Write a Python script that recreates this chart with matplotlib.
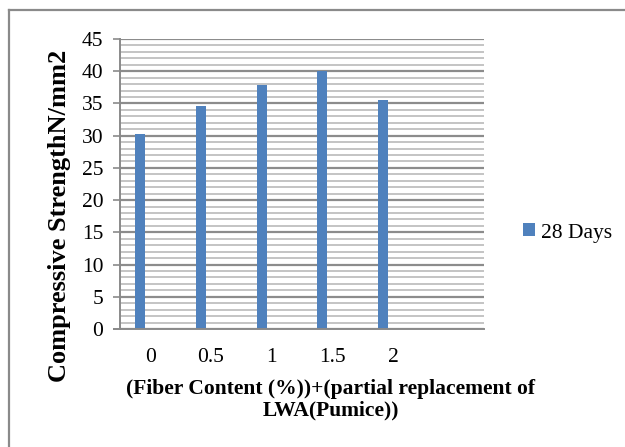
import matplotlib
matplotlib.use("Agg")
import matplotlib.pyplot as plt
from matplotlib.lines import Line2D
from matplotlib.ticker import MultipleLocator
import numpy as np

categories = ["0", "0.5", "1", "1.5", "2"]
days28 = [30.2, 34.6, 37.9, 40.0, 35.5]
series_name = "28 Days"
y_ticks = [0, 5, 10, 15, 20, 25, 30, 35, 40, 45]
xlabel = "(Fiber Content (%))+(partial replacement of\nLWA(Pumice))"
ylabel = "Compressive StrengthN/mm2"

W, H = 625, 447
fig = plt.figure(figsize=(W / 100, H / 100), dpi=100)
plt.rcParams['font.family'] = ['Liberation Serif', 'DejaVu Serif']

# outer chart frame (cropped)
fc = '#8a8a8a'
fig.add_artist(Line2D([8.5 / W, 8.5 / W], [1 - 9.5 / H, 0], transform=fig.transFigure, color=fc, lw=1.6))
fig.add_artist(Line2D([8.5 / W, 1], [1 - 9.5 / H, 1 - 9.5 / H], transform=fig.transFigure, color=fc, lw=1.6))

left, right, top, bottom = 120, 484, 39, 329
ax = fig.add_axes([left / W, 1 - bottom / H, (right - left) / W, (bottom - top) / H])

x = np.arange(len(categories))
bw = 0.165
ax.bar(x - bw, days28, width=bw, color='#4F81BD', zorder=3, label=series_name)

ax.set_xlim(-0.5, 5.5)
ax.set_ylim(0, 45)
ax.set_yticks(y_ticks)
ax.set_yticklabels([str(v) for v in y_ticks], fontsize=15.5)
ax.yaxis.set_minor_locator(MultipleLocator(1))
ax.set_xticks(x)
ax.set_xticklabels(categories, fontsize=15.5)
ax.tick_params(axis='x', length=0, pad=14)
ax.tick_params(axis='y', which='major', length=5, width=1.2, color='#8a8a8a', pad=7)
ax.tick_params(axis='y', which='minor', length=0)

ax.grid(axis='y', which='major', color='#8c8c8c', lw=1.6, zorder=1)
ax.grid(axis='y', which='minor', color='#c4c4c4', lw=1.4, zorder=1)

for s in ['top', 'right']:
    ax.spines[s].set_visible(False)
ax.spines['left'].set_color('#8a8a8a')
ax.spines['left'].set_linewidth(1.4)
ax.spines['bottom'].set_color('#8a8a8a')
ax.spines['bottom'].set_linewidth(1.4)
ax.spines['bottom'].set_bounds(-0.5 - 6 / 60.67, 5.5)
ax.spines['bottom'].set_zorder(4)

fig.text(331 / W, 1 - 400 / H, xlabel, ha='center', va='center', fontsize=15.5,
         fontweight='bold', linespacing=1.1)
fig.text(60 / W, 1 - 216 / H, ylabel, ha='center', va='center', rotation=90,
         fontsize=19, fontweight='bold')

leg = fig.legend(loc='center left', bbox_to_anchor=(523 / W, 1 - 233 / H), frameon=False,
                 fontsize=15.5, handlelength=0.55, handleheight=0.55, handletextpad=0.3,
                 borderpad=0, borderaxespad=0)

fig.savefig("out.png", dpi=100)
